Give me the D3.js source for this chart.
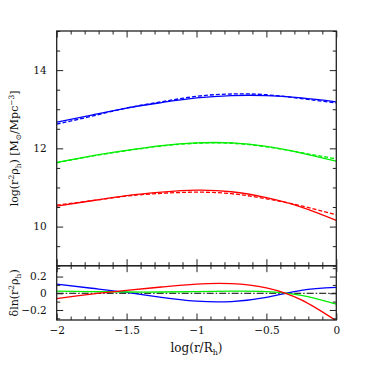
<!DOCTYPE html>
<html>
<head>
<meta charset="utf-8">
<script src="https://cdn.jsdelivr.net/npm/d3@7"></script>
<style>
  body { margin: 0; background: #fff; }
  svg { display: block; }
  text { font-family: "DejaVu Serif", serif; fill: #111; }
</style>
</head>
<body>
<div id="chart"></div>
<script>
// log(r/R_h) sample points
var xVals = [-2, -1.75, -1.5, -1.25, -1, -0.75, -0.5, -0.25, 0];

// upper panel: log(r^2 rho_h), solid = model, dashed = fit
var blueSolid   = [12.67, 12.85, 13.03, 13.17, 13.29, 13.35, 13.35, 13.29, 13.19];
var blueDashed  = [12.62, 12.82, 13.03, 13.19, 13.33, 13.39, 13.37, 13.27, 13.16];
var greenSolid  = [11.64, 11.81, 11.95, 12.07, 12.14, 12.14, 12.05, 11.88, 11.67];
var greenDashed = [11.63, 11.80, 11.94, 12.06, 12.13, 12.13, 12.04, 11.89, 11.73];
var redSolid    = [10.52, 10.66, 10.79, 10.88, 10.93, 10.89, 10.74, 10.50, 10.16];
var redDashed   = [10.55, 10.66, 10.78, 10.85, 10.88, 10.84, 10.71, 10.53, 10.30];

// lower panel: delta ln(r^2 rho_h)
var blueResid  = [0.11, 0.06, 0.01, -0.05, -0.095, -0.10, -0.05, 0.035, 0.07];
var greenResid = [0.025, 0.02, 0.015, 0.015, 0.02, 0.025, 0.02, -0.025, -0.13];
var redResid   = [-0.065, -0.01, 0.035, 0.075, 0.11, 0.115, 0.065, -0.08, -0.33];

var xMajor = [-2, -1.5, -1, -0.5, 0];
var xTickLabels = ["\u22122", "\u22121.5", "\u22121", "\u22120.5", "0"];
var yTopMajor = [10, 12, 14];
var yTopLabels = ["10", "12", "14"];
var yBotMajor = [-0.2, 0, 0.2];
var yBotLabels = ["\u22120.2", "0", "0.2"];

var W = 367, H = 367;
// plot box edges (avoid the global names top/left etc.)
var pL = 56.7, pR = 336.3, pT = 31, pM = 265.7, pB = 320;

var svg = d3.select('#chart').append('svg')
    .attr('width', W).attr('height', H);

var x = d3.scaleLinear().domain([-2, 0]).range([pL, pR]);
var yTop = d3.scaleLinear().domain([9, 15]).range([pM, pT]);
var yBot = d3.scaleLinear().domain([-0.32, 0.33]).range([pB, pM]);

var xMinor = d3.range(-20, 1).map(d => d / 10).filter(d => xMajor.indexOf(d) < 0);
var yTopMinor = d3.range(18, 31).map(d => d / 2).filter(d => yTopMajor.indexOf(d) < 0);
var yBotMinor = [-0.3, -0.1, 0.1, 0.3];

var MAJ = 6.5, MIN = 3.5;

function ticks(g, axis, vals, size) {
  g.call(axis.tickValues(vals).tickSize(-size).tickFormat(''))
   .call(s => s.select('.domain').remove())
   .call(s => s.selectAll('line').attr('stroke', '#222').attr('stroke-width', 1));
}

function labelled(g, axis, vals, labels, pad) {
  g.call(axis.tickValues(vals).tickSize(-MAJ).tickPadding(pad)
      .tickFormat(labels ? (d, i) => labels[i] : ''))
    .call(s => s.select('.domain').remove())
    .call(s => s.selectAll('line').attr('stroke', '#222'))
    .call(s => s.selectAll('text').attr('font-size', 10.5)
      .attr('font-family', 'DejaVu Serif').attr('fill', '#111'));
}

function panelAxes(yScale, yMajor, yMinor, labels, showX) {
  var y0 = yScale.range()[0], y1 = yScale.range()[1];
  // left
  var gl = svg.append('g').attr('transform', 'translate(' + pL + ',0)');
  ticks(gl.append('g'), d3.axisLeft(yScale), yMinor, MIN);
  labelled(gl.append('g'), d3.axisLeft(yScale), yMajor, labels, 10);
  // right
  var gr = svg.append('g').attr('transform', 'translate(' + pR + ',0)');
  ticks(gr.append('g'), d3.axisRight(yScale), yMinor, MIN);
  ticks(gr.append('g'), d3.axisRight(yScale), yMajor, MAJ);
  // top & bottom
  var gt = svg.append('g').attr('transform', 'translate(0,' + y1 + ')');
  ticks(gt.append('g'), d3.axisTop(x), xMinor, MIN);
  ticks(gt.append('g'), d3.axisTop(x), xMajor, MAJ);
  var gb = svg.append('g').attr('transform', 'translate(0,' + y0 + ')');
  ticks(gb.append('g'), d3.axisBottom(x), xMinor, MIN);
  labelled(gb.append('g'), d3.axisBottom(x), xMajor, showX ? xTickLabels : null, 7);
  // frame
  svg.append('rect')
    .attr('x', pL).attr('y', y1)
    .attr('width', pR - pL).attr('height', y0 - y1)
    .attr('fill', 'none').attr('stroke', '#222').attr('stroke-width', 1.3);
}

svg.append('clipPath').attr('id', 'ct').append('rect')
  .attr('x', pL).attr('y', pT).attr('width', pR - pL).attr('height', pM - pT);
svg.append('clipPath').attr('id', 'cb').append('rect')
  .attr('x', pL).attr('y', pM).attr('width', pR - pL).attr('height', pB - pM);

function curve(yScale, vals, color, dash, clip) {
  var line = d3.line()
    .x((d, i) => x(xVals[i]))
    .y(d => yScale(d))
    .curve(d3.curveNatural);
  svg.append('path')
    .attr('d', line(vals))
    .attr('fill', 'none')
    .attr('stroke', color)
    .attr('stroke-width', 1.3)
    .attr('stroke-dasharray', dash || null)
    .attr('clip-path', 'url(#' + clip + ')');
}

// upper panel curves
curve(yTop, blueDashed, '#0000ff', '4,2', 'ct');
curve(yTop, blueSolid, '#0000ff', null, 'ct');
curve(yTop, greenDashed, '#00ee00', '4,2', 'ct');
curve(yTop, greenSolid, '#00ee00', null, 'ct');
curve(yTop, redDashed, '#ff0000', '4,2', 'ct');
curve(yTop, redSolid, '#ff0000', null, 'ct');

// lower panel: zero reference
svg.append('line')
  .attr('x1', pL).attr('x2', pR)
  .attr('y1', yBot(0)).attr('y2', yBot(0))
  .attr('stroke', '#000').attr('stroke-width', 1)
  .attr('stroke-dasharray', '7,2,1.5,2');
curve(yBot, blueResid, '#0000ff', null, 'cb');
curve(yBot, greenResid, '#00ee00', null, 'cb');
curve(yBot, redResid, '#ff0000', null, 'cb');

panelAxes(yTop, yTopMajor, yTopMinor, yTopLabels, false);
panelAxes(yBot, yBotMajor, yBotMinor, yBotLabels, true);

// axis labels
var xl = svg.append('text')
  .attr('x', (pL + pR) / 2).attr('y', 352)
  .attr('text-anchor', 'middle').attr('font-size', 12);
xl.append('tspan').text('log(r/R');
xl.append('tspan').attr('font-size', 8).attr('dy', 2.5).text('h');
xl.append('tspan').attr('dy', -2.5).text(')');

var yl = svg.append('text')
  .attr('transform', 'translate(18,' + (pT + pM) / 2 + ') rotate(-90)')
  .attr('text-anchor', 'middle').attr('font-size', 11);
yl.append('tspan').text('log(r');
yl.append('tspan').attr('font-size', 7.5).attr('dy', -4).text('2');
yl.append('tspan').attr('dy', 4).text('\u03c1');
yl.append('tspan').attr('font-size', 7.5).attr('dy', 2.5).text('h');
yl.append('tspan').attr('dy', -2.5).text(')  [M');
yl.append('tspan').attr('font-size', 7.5).attr('dy', 2.5).text('\u2299');
yl.append('tspan').attr('dy', -2.5).text('/Mpc');
yl.append('tspan').attr('font-size', 7.5).attr('dy', -4).text('\u22123');
yl.append('tspan').attr('dy', 4).text(']');

var dl = svg.append('text')
  .attr('transform', 'translate(18,' + (pM + pB) / 2 + ') rotate(-90)')
  .attr('text-anchor', 'middle').attr('font-size', 11);
dl.append('tspan').text('\u03b4ln(r');
dl.append('tspan').attr('font-size', 7.5).attr('dy', -4).text('2');
dl.append('tspan').attr('dy', 4).text('\u03c1');
dl.append('tspan').attr('font-size', 7.5).attr('dy', 2.5).text('h');
dl.append('tspan').attr('dy', -2.5).text(')');
</script>
</body>
</html>
